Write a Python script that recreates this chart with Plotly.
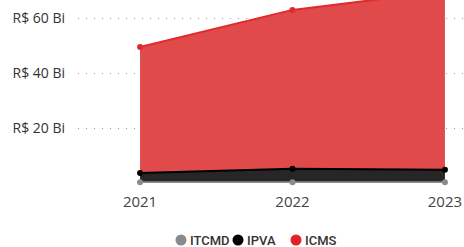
import plotly.graph_objects as go

years = [2021, 2022, 2023]
itcmd = [0.3, 0.3, 0.3]
ipva = [3.3, 4.9, 4.5]
icms = [45.9, 57.8, 65.0]
y_ticks = [20, 40, 60]
y_tick_labels = ["R$ 20 Bi", "R$ 40 Bi", "R$ 60 Bi"]
series_names = ["ITCMD", "IPVA", "ICMS"]

fills = ["#8C8C8C", "#262626", "#E04A4A"]
lines = ["#8C8C8C", "#000000", "#E02A2E"]
legend_cols = ["#8A8A8A", "#000000", "#E02328"]

W, H = 464, 247
ML, MR, MT, MB = 78, 0, 0, 64
PW, PH = W - ML - MR, H - MT - MB

fig = go.Figure()
for name, vals, fc, lc in zip(series_names, [itcmd, ipva, icms], fills, lines):
    fig.add_trace(go.Scatter(
        x=years, y=vals, name=name, stackgroup="one", mode="lines+markers",
        line=dict(color=lc, width=2), fillcolor=fc,
        marker=dict(color=lc, size=6), showlegend=False, cliponaxis=False,
    ))

# compact legend (circle + label), laid out in pixels below the plot
legend_x = [181, 238, 296]
legend_y = 240
for name, c, px in zip(series_names, legend_cols, legend_x):
    fig.add_shape(type="circle", xref="paper", yref="paper",
                  xsizemode="pixel", ysizemode="pixel",
                  xanchor=(px - ML) / PW, yanchor=(PH - (legend_y - MT)) / PH,
                  x0=-5.5, x1=5.5, y0=-5.5, y1=5.5,
                  fillcolor=c, line=dict(width=0))
    fig.add_annotation(text=name, xref="paper", yref="paper",
                       x=(px + 7 - ML) / PW, y=(PH - (legend_y - MT)) / PH,
                       xanchor="left", yanchor="middle", showarrow=False,
                       font=dict(family="Roboto", size=13, color="#333",
                                 weight=500))

fig.update_layout(
    width=W, height=H,
    margin=dict(l=ML, r=MR, t=MT, b=MB),
    paper_bgcolor="white", plot_bgcolor="white",
    font=dict(family="Open Sans", size=12, color="#333"),
    showlegend=False,
)
fig.update_xaxes(range=[2020.593, 2023.125], tickvals=years,
                 ticktext=[str(y) for y in years], showgrid=False,
                 zeroline=False, showline=False, automargin=False,
                 tickfont=dict(size=15, color="#444"), ticks="",
                 ticklabelstandoff=8)
fig.update_yaxes(range=[0, 66.6], tickvals=y_ticks, ticktext=y_tick_labels,
                 showgrid=True, gridcolor="#999999", griddash="1px,7px",
                 gridwidth=1, zeroline=False, showline=False, automargin=False,
                 tickfont=dict(size=14, color="#333"), ticks="",
                 ticklabelstandoff=12)
fig.write_html("out.html", config={"displayModeBar": False},
               post_script="document.body.style.margin='0';")
